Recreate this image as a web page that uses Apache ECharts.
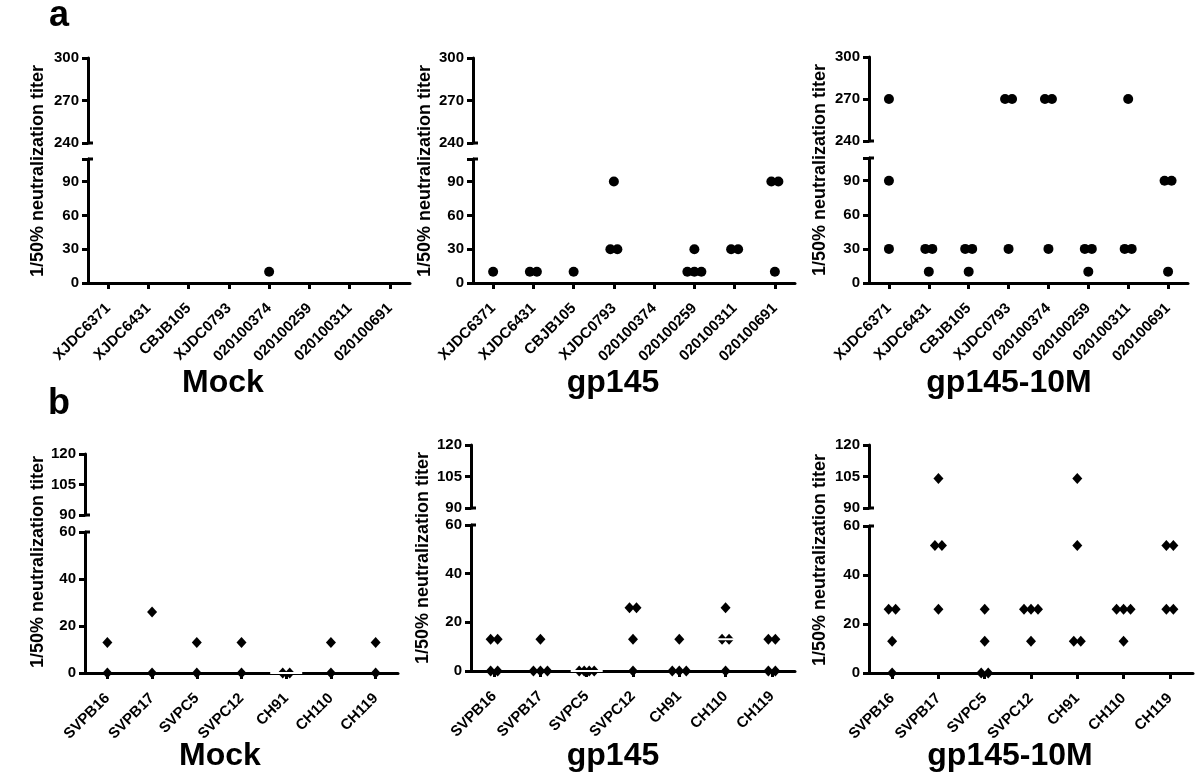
<!DOCTYPE html>
<html><head><meta charset="utf-8">
<script src="https://cdn.jsdelivr.net/npm/echarts@6/dist/echarts.min.js"></script>
<style>html,body{margin:0;padding:0;background:#fff}#c{width:1200px;height:778px}</style>
</head><body><div id="c"></div>
<script>
// ---------------- DATA ----------------
const catsA = ['XJDC6371','XJDC6431','CBJB105','XJDC0793','020100374','020100259','020100311','020100691'];
const catsB = ['SVPB16','SVPB17','SVPC5','SVPC12','CH91','CH110','CH119'];
const titles = ['Mock','gp145','gp145-10M'];
const panelLetters = ['a','b'];
const yTitle = '1/50% neutralization titer';

// panel a (circles): values per category
const aMock      = [[],[],[],[],[10],[],[],[]];
const aGp145     = [[10],[10,10],[10],[90,30,30],[],[30,10,10,10],[30,30],[90,90,10]];
const aGp145_10M = [[270,90,30],[30,30,10],[30,30,10],[270,270,30],[270,270,30],[30,30,10],[270,30,30],[90,90,10]];

// panel b (diamonds): values per category
const bMock      = [[13,0],[26,0],[13,0],[13,0],[0,0],[13,0],[13,0]];
const bGp145     = [[13,13,0,0],[13,0,0,0],[0,0,0,0],[26,26,13,0],[13,0,0,0],[26,13,13,0],[13,13,0,0]];
const bGp145_10M = [[26,26,13,0],[104,52,52,26],[26,13,0,0],[26,26,26,13],[104,52,13,13],[26,26,26,13],[52,52,26,26]];

// tick labels (broken axes)
const aUpperTicks = [240,270,300];
const aLowerTicks = [0,30,60,90];
const aLowerMax = 110;
const bUpperTicks = [90,105,120];
const bLowerTicks = [0,20,40,60];
const bLowerMax = 60;

// ---------------- LAYOUT ----------------
const FONT = '"Liberation Sans", Arial, Helvetica, sans-serif';
const BLACK = '#000';
const panels = [
  {cats:catsA, vals:aMock, sym:'circle', size:10, up:aUpperTicks, low:aLowerTicks, lowMax:aLowerMax, means:false,
   left:88, right:410, upTop:58, upBot:143, lowTop:159, lowBot:283, title:titles[0], tx:223, ty:383, nx:38, ny:171},
  {cats:catsA, vals:aGp145, sym:'circle', size:10, up:aUpperTicks, low:aLowerTicks, lowMax:aLowerMax, means:false,
   left:473, right:795, upTop:58, upBot:143, lowTop:159, lowBot:283, title:titles[1], tx:613, ty:383, nx:425, ny:171},
  {cats:catsA, vals:aGp145_10M, sym:'circle', size:10, up:aUpperTicks, low:aLowerTicks, lowMax:aLowerMax, means:false,
   left:869, right:1188, upTop:57, upBot:141, lowTop:158, lowBot:283, title:titles[2], tx:1009, ty:383, nx:820, ny:170},
  {cats:catsB, vals:bMock, sym:'diamond', size:[10,11], up:bUpperTicks, low:bLowerTicks, lowMax:bLowerMax, means:true,
   left:85, right:398, upTop:454, upBot:515, lowTop:532, lowBot:673, title:titles[0], tx:220, ty:756, nx:38, ny:562},
  {cats:catsB, vals:bGp145, sym:'diamond', size:[10,11], up:bUpperTicks, low:bLowerTicks, lowMax:bLowerMax, means:true,
   left:471, right:795, upTop:445, upBot:508, lowTop:525, lowBot:671, title:titles[1], tx:613, ty:756, nx:423, ny:558},
  {cats:catsB, vals:bGp145_10M, sym:'diamond', size:[10,11], up:bUpperTicks, low:bLowerTicks, lowMax:bLowerMax, means:true,
   left:869, right:1193, upTop:445, upBot:508, lowTop:526, lowBot:673, title:titles[2], tx:1010, ty:756, nx:820, ny:560}
];

// spread equal values side by side (scatter dot-plot jitter)
function spreadPoints(groups, keep) {
  const out = [];
  groups.forEach((g, ci) => {
    const counts = {};
    g.forEach(v => { counts[v] = (counts[v] || 0) + 1; });
    const seen = {};
    g.forEach(v => {
      const n = counts[v];
      const k = seen[v] || 0; seen[v] = k + 1;
      const sp = n >= 4 ? 5 : 7;
      const dx = (k - (n - 1) / 2) * sp;
      if (keep(v)) out.push({value:[ci, v], symbolOffset:[dx, 0]});
    });
  });
  return out;
}

const lineStyle = {color:BLACK, width:3};
const labelStyle = {color:BLACK, fontWeight:'bold', fontSize:15, fontFamily:FONT};

const grids = [], xAxes = [], yAxes = [], series = [], graphics = [];

function yAxisDef(gi, ticks, maxV) {
  const min = ticks[0];
  const max = maxV;
  const interval = ticks[1] - ticks[0];
  return {
    gridIndex: gi, type:'value', min, max, interval,
    axisLine:{show:true, lineStyle},
    axisTick:{show:true, length:6, lineStyle},
    axisLabel:Object.assign({margin:9, formatter: v => ticks.indexOf(v) >= 0 ? String(v) : ''}, labelStyle),
    splitLine:{show:false}
  };
}

panels.forEach(p => {
  const w = p.right - p.left;
  const gU = grids.length;
  grids.push({left:p.left, top:p.upTop, width:w, height:p.upBot - p.upTop});
  const gL = grids.length;
  grids.push({left:p.left, top:p.lowTop, width:w, height:p.lowBot - p.lowTop});

  const xU = xAxes.length;
  xAxes.push({gridIndex:gU, type:'category', data:p.cats, show:false});
  const xL = xAxes.length;
  xAxes.push({gridIndex:gL, type:'category', data:p.cats, boundaryGap:true,
    axisLine:{show:true, lineStyle},
    axisTick:{show:true, alignWithLabel:true, length:6, lineStyle},
    axisLabel:Object.assign({rotate:45, interval:0, margin:23}, labelStyle),
    splitLine:{show:false}});

  const yU = yAxes.length;
  yAxes.push(yAxisDef(gU, p.up, p.up[p.up.length - 1]));
  const yL = yAxes.length;
  yAxes.push(yAxisDef(gL, p.low, p.lowMax));

  const upMin = p.up[0];
  series.push({type:'scatter', xAxisIndex:xU, yAxisIndex:yU, symbol:p.sym, symbolSize:p.size, clip:false,
    itemStyle:{color:BLACK, opacity:1}, silent:true,
    data: spreadPoints(p.vals, v => v >= upMin)});
  series.push({type:'scatter', xAxisIndex:xL, yAxisIndex:yL, symbol:p.sym, symbolSize:p.size, clip:false,
    itemStyle:{color:BLACK, opacity:1}, silent:true,
    data: spreadPoints(p.vals, v => v <= p.lowMax)});

  if (p.means) {
    const md = [];
    p.vals.forEach((g, ci) => {
      if (!g.length) return;
      const m = g.reduce((a, b) => a + b, 0) / g.length;
      if (m <= p.lowMax) md.push([ci, m]);
    });
    series.push({type:'scatter', xAxisIndex:xL, yAxisIndex:yL, symbol:'rect', symbolSize:[32, 2], clip:false,
      z:5, itemStyle:{color:'#fff', opacity:1}, silent:true, data: md});
  }

  // right half of the axis-break caps
  [p.upBot, p.lowTop].forEach(y => {
    graphics.push({type:'line', shape:{x1:p.left, y1:y, x2:p.left + 5, y2:y}, style:{stroke:BLACK, lineWidth:3}});
  });

  graphics.push({type:'text', x:p.tx, y:p.ty,
    style:{text:p.title, font:'bold 32px ' + FONT, fill:BLACK, align:'center', verticalAlign:'middle'}});
  graphics.push({type:'text', x:p.nx, y:p.ny, rotation:Math.PI / 2,
    style:{text:yTitle, font:'bold 18px ' + FONT, fill:BLACK, align:'center', verticalAlign:'middle'}});
});

graphics.push({type:'text', x:59, y:16, style:{text:panelLetters[0], font:'bold 36px ' + FONT, fill:BLACK, align:'center', verticalAlign:'middle'}});
graphics.push({type:'text', x:59, y:404, style:{text:panelLetters[1], font:'bold 36px ' + FONT, fill:BLACK, align:'center', verticalAlign:'middle'}});

const chart = echarts.init(document.getElementById('c'), null, {renderer:'canvas'});
chart.setOption({
  animation:false,
  backgroundColor:'#fff',
  grid: grids, xAxis: xAxes, yAxis: yAxes, series: series,
  graphic: graphics
});
</script>
</body></html>
